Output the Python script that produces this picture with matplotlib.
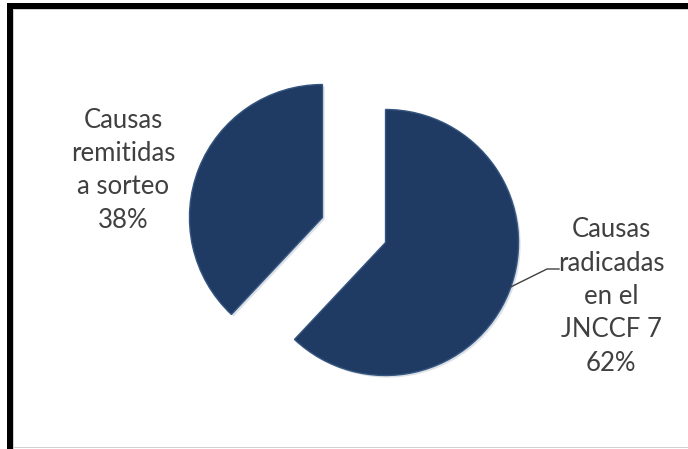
import matplotlib
matplotlib.use("Agg")
import matplotlib.pyplot as plt
import numpy as np
from matplotlib.patches import Rectangle
import matplotlib.patheffects as pe

labels = ["Causas\nradicadas\nen el\nJNCCF 7", "Causas\nremitidas\na sorteo"]
values = [62, 38]

W, H = 688, 449
fig = plt.figure(figsize=(W / 100, H / 100), dpi=100)
ax = fig.add_axes([0, 0, 1, 1])
R = 133.0
cx, cy = 354.0, 230.0
ax.axis("off")

explode = [0.255, 0.255]
wedges, _ = ax.pie(values, explode=explode, startangle=90, counterclock=False,
                   colors=["#1f3b64", "#1f3b64"], radius=1.0,
                   wedgeprops=dict(edgecolor="#35557f", linewidth=1.0),
                   frame=False)
for w in wedges:
    w.set_path_effects([pe.SimplePatchShadow(offset=(1.5, -1.5), shadow_rgbFace="#9aa7b8", alpha=0.35),
                        pe.Normal()])
ax.set_xlim(-cx / R, (W - cx) / R)
ax.set_ylim(-(H - cy) / R, cy / R)
ax.set_aspect("auto")

pct = [f"{v}%" for v in values]
txt_kw = dict(ha="center", va="center", color="#404040", fontsize=18.5,
              family="Lato", linespacing=1.42)
ax.text(1.932, -0.50, labels[0] + "\n" + pct[0], **txt_kw)
ax.text(-1.737, 0.45, labels[1] + "\n" + pct[1], **txt_kw)

# leader line for big slice
w0 = wedges[0]
c0 = np.array(w0.center)
ang = np.deg2rad(-19.5)
p0 = c0 + np.array([np.cos(ang), np.sin(ang)])
p1 = np.array([(547 - cx) / R, (cy - 269) / R])
p2 = np.array([(559 - cx) / R, (cy - 269) / R])
ax.plot([p0[0], p1[0], p2[0]], [p0[1], p1[1], p2[1]], color="#404040", lw=1.0)

# frame
def rect_px(x0, y0, x1, y1, color):
    fig.add_artist(Rectangle((x0 / W, 1 - y1 / H), (x1 - x0) / W, (y1 - y0) / H,
                             transform=fig.transFigure, color=color, lw=0))

rect_px(7, 3, W, 8.5, "black")
rect_px(7, 3, 12.5, H, "black")
rect_px(12.5, 8.5, W, 9.5, "#d0d0d0")
rect_px(12.5, 8.5, 13.5, H, "#d0d0d0")
rect_px(12.5, 446.5, W, 448, "#d0d0d0")

fig.savefig("out.png", dpi=100)
